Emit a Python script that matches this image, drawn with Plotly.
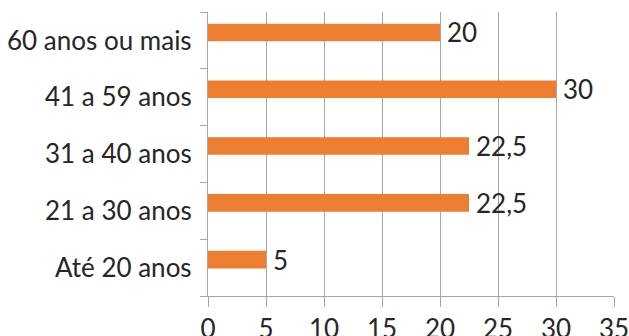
import plotly.graph_objects as go

categories = ["Até 20 anos", "21 a 30 anos", "31 a 40 anos", "41 a 59 anos", "60 anos ou mais"]
values = [5, 22.5, 22.5, 30, 20]
value_labels = ["5", "22,5", "22,5", "30", "20"]
x_ticks = [0, 5, 10, 15, 20, 25, 30, 35]

ORANGE = "#ED7D31"
GRID = "#a6a6a6"
TEXT = "#262626"
FONT = "Lato"
SIZE = 26

# bars sit slightly above the middle of each category band
BAR_WIDTH = 0.31
BAR_OFFSET = -0.015

fig = go.Figure(
    go.Bar(
        y=categories,
        x=values,
        orientation="h",
        marker=dict(color=ORANGE, line=dict(width=0)),
        width=BAR_WIDTH,
        offset=BAR_OFFSET,
        hoverinfo="skip",
    )
)

for cat, val, lab in zip(categories, values, value_labels):
    fig.add_annotation(
        x=val, y=cat, text=lab, showarrow=False,
        xanchor="left", yanchor="middle", xshift=5, yshift=8,
        font=dict(family=FONT, size=SIZE, color=TEXT),
    )

fig.update_layout(
    width=629, height=336,
    margin=dict(l=208, r=15, t=12, b=40, autoexpand=False),
    paper_bgcolor="white", plot_bgcolor="white",
    showlegend=False,
    font=dict(family=FONT, size=SIZE, color=TEXT),
)

fig.update_xaxes(
    range=[0, 35], tickvals=x_ticks, ticktext=[str(v) for v in x_ticks],
    automargin=False, ticklabeloverflow="allow",
    showgrid=True, gridcolor=GRID, gridwidth=1.3,
    zeroline=False, showline=True, linecolor=GRID, linewidth=1.3,
    ticks="outside", ticklen=10, tickcolor=GRID, tickwidth=1.3,
    ticklabelstandoff=0,
    tickfont=dict(family=FONT, size=SIZE, color=TEXT),
)
fig.update_yaxes(
    categoryorder="array", categoryarray=categories,
    automargin=False,
    showgrid=False, zeroline=False,
    showline=True, linecolor=GRID, linewidth=1.3,
    ticks="outside", ticklen=7, tickcolor=GRID, tickwidth=1.3,
    tickson="boundaries", ticklabelstandoff=10,
    tickfont=dict(family=FONT, size=SIZE, color=TEXT),
)

fig.write_html("out.html")
